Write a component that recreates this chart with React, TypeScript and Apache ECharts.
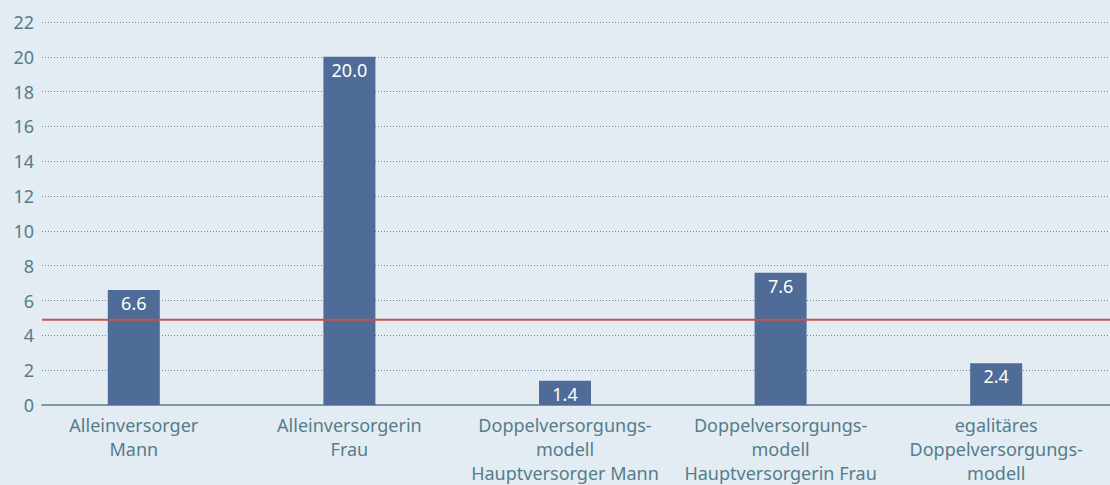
import React, { useEffect, useRef } from "react";
import * as echarts from "echarts";

const categories = [
  "Alleinversorger\nMann",
  "Alleinversorgerin\nFrau",
  "Doppelversorgungs-\nmodell\nHauptversorger Mann",
  "Doppelversorgungs-\nmodell\nHauptversorgerin Frau",
  "egalitäres\nDoppelversorgungs-\nmodell",
];
const values = [6.6, 20.0, 1.4, 7.6, 2.4];
const referenceValue = 4.9;
const yTicks = { min: 0, max: 22, interval: 2 };

const FONT = "'Noto Sans', sans-serif";
const TEXT = "#547d8b";

export default function App() {
  const ref = useRef<HTMLDivElement>(null);
  useEffect(() => {
    document.body.style.margin = "0";
    const chart = echarts.init(ref.current!, null, { renderer: "svg" });
    chart.setOption({
      animation: false,
      backgroundColor: "#e3ecf2",
      textStyle: { fontFamily: FONT },
      grid: [
        { left: 42, right: 0, top: 22, bottom: 80 },
        { left: 26, right: 6, top: 22, bottom: 80 },
      ],
      xAxis: [
        {
          gridIndex: 0,
          type: "value",
          min: 0,
          max: 1,
          axisLine: { show: true, onZero: false, lineStyle: { color: "#5e8492", width: 1.5 } },
          axisTick: { show: false },
          axisLabel: { show: false },
          splitLine: { show: false },
        },
        {
          gridIndex: 1,
          type: "category",
          data: categories,
          axisLine: { show: false },
          axisTick: { show: false },
          axisLabel: {
            color: TEXT,
            fontSize: 18,
            lineHeight: 24,
            margin: 8,
            interval: 0,
            fontFamily: FONT,
          },
        },
      ],
      yAxis: [
        {
          gridIndex: 0,
          type: "value",
          min: yTicks.min,
          max: yTicks.max,
          interval: yTicks.interval,
          axisLine: { show: false },
          axisTick: { show: false },
          axisLabel: { color: TEXT, fontSize: 18, margin: 8, fontFamily: FONT },
          splitLine: { show: true, lineStyle: { type: [1, 2], color: "#6a8d9a", width: 1 } },
        },
        {
          gridIndex: 1,
          type: "value",
          min: yTicks.min,
          max: yTicks.max,
          interval: yTicks.interval,
          show: false,
          splitLine: { show: false },
        },
      ],
      series: [
        {
          type: "bar",
          xAxisIndex: 1,
          yAxisIndex: 1,
          data: values,
          barWidth: 52,
          itemStyle: { color: "#4f6b98" },
          label: {
            show: true,
            position: "insideTop",
            distance: 4,
            color: "#ffffff",
            fontSize: 18,
            fontFamily: FONT,
            formatter: (p: any) => Number(p.value).toFixed(1),
          },
          z: 3,
        },
        {
          type: "line",
          xAxisIndex: 0,
          yAxisIndex: 0,
          data: [
            [0, referenceValue],
            [1, referenceValue],
          ],
          symbol: "none",
          lineStyle: { color: "#c8524c", width: 2 },
          z: 5,
        },
      ],
    });
    return () => chart.dispose();
  }, []);
  return <div ref={ref} style={{ width: 1110, height: 485 }} />;
}
